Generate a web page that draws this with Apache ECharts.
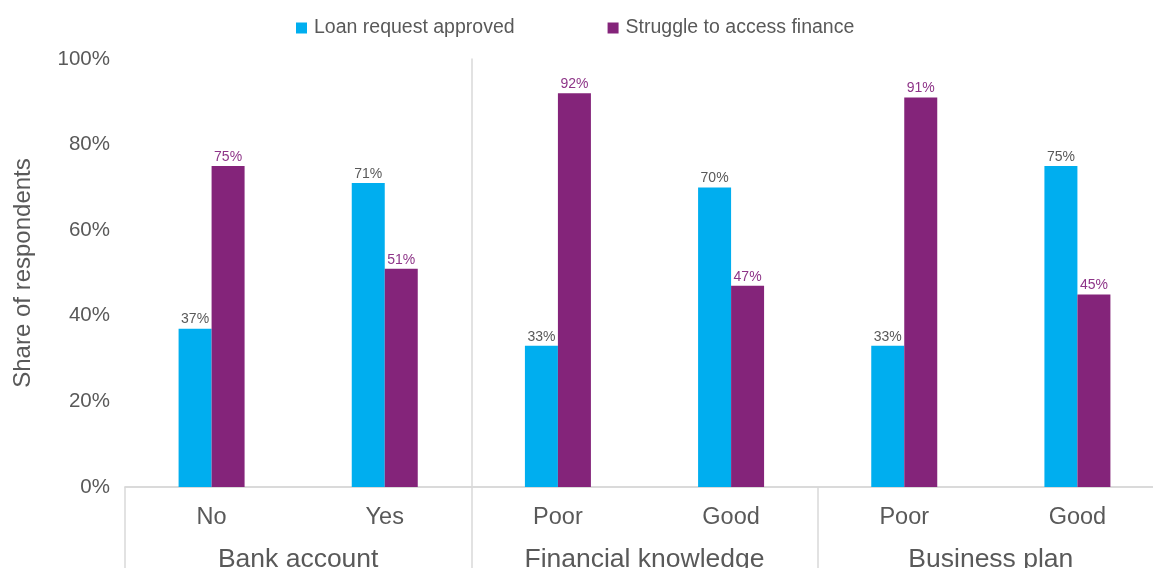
<!DOCTYPE html>
<html>
<head>
<meta charset="utf-8">
<style>
  html, body { margin: 0; padding: 0; background: #fff; }
  #chart { width: 1153px; height: 568px; }
</style>
<script src="https://cdn.jsdelivr.net/npm/echarts@6/dist/echarts.min.js"></script>
</head>
<body>
<div id="chart"></div>
<script>
// Answer options within each respondent group
const categories = ['No', 'Yes', 'Poor', 'Good', 'Poor', 'Good'];
// Respondent groups, each spanning two answer options
const groups = ['Bank account', 'Financial knowledge', 'Business plan'];
const seriesNames = ['Loan request approved', 'Struggle to access finance'];
// Share of respondents, in percent
const loanApproved = [37, 71, 33, 70, 33, 75];
const struggleFinance = [75, 51, 92, 47, 91, 45];
const yTicks = [0, 20, 40, 60, 80, 100];

const BLUE = '#00AEEF';
const PURPLE = '#84247A';
const TEXT = '#595959';
const RULE = '#D9D9D9';
const FONT = '"Liberation Sans", Arial, Helvetica, sans-serif';

const GRID_LEFT = 125;
const GRID_WIDTH = 1039;
const CAT_WIDTH = GRID_WIDTH / categories.length;

const chart = echarts.init(document.getElementById('chart'), null, { renderer: 'canvas' });

chart.setOption({
  animation: false,
  textStyle: { fontFamily: FONT },
  legend: {
    left: 291,
    top: 13,
    itemWidth: 11,
    itemHeight: 11,
    itemGap: 93,
    icon: 'rect',
    textStyle: { fontFamily: FONT, fontSize: 19.5, color: TEXT, padding: [0, 0, 0, 2] },
    data: seriesNames
  },
  grid: {
    left: GRID_LEFT, top: 59, width: GRID_WIDTH, height: 428,
    containLabel: false, outerBoundsMode: 'none'
  },
  xAxis: [
    {
      type: 'category',
      data: categories,
      position: 'bottom',
      axisLine: { show: true, lineStyle: { color: RULE, width: 1.5 } },
      axisTick: { show: false },
      splitLine: { show: false },
      axisLabel: { fontFamily: FONT, fontSize: 23.5, color: TEXT, margin: 19, interval: 0 }
    },
    {
      type: 'category',
      data: groups,
      position: 'bottom',
      axisLine: { show: true, lineStyle: { color: RULE, width: 1.5 } },
      axisTick: { show: true, length: 90, interval: 0, lineStyle: { color: RULE, width: 1.5 } },
      splitLine: { show: false },
      axisLabel: { fontFamily: FONT, fontSize: 26.5, color: TEXT, margin: 59, interval: 0 }
    }
  ],
  yAxis: [
    {
      type: 'value',
      min: yTicks[0],
      max: yTicks[yTicks.length - 1],
      interval: yTicks[1] - yTicks[0],
      name: 'Share of respondents',
      nameLocation: 'middle',
      nameGap: 90,
      nameTextStyle: { fontFamily: FONT, fontSize: 24, color: TEXT },
      axisLine: { show: false },
      axisTick: { show: false },
      splitLine: { show: false },
      axisLabel: { fontFamily: FONT, fontSize: 20.5, color: TEXT, margin: 15, formatter: '{value}%' }
    },
    {
      // divider between the first and second respondent groups
      type: 'value',
      position: 'left',
      offset: -2 * CAT_WIDTH,
      min: yTicks[0],
      max: yTicks[yTicks.length - 1],
      axisLine: { show: true, lineStyle: { color: RULE, width: 1.5 } },
      axisTick: { show: false },
      axisLabel: { show: false },
      splitLine: { show: false }
    }
  ],
  series: [
    {
      name: seriesNames[0],
      type: 'bar',
      xAxisIndex: 0,
      yAxisIndex: 0,
      data: loanApproved,
      barWidth: 33,
      barGap: '0%',
      itemStyle: { color: BLUE },
      label: { show: true, position: 'top', distance: 2, fontFamily: FONT, fontSize: 14, color: TEXT, formatter: '{c}%' }
    },
    {
      name: seriesNames[1],
      type: 'bar',
      xAxisIndex: 0,
      yAxisIndex: 0,
      data: struggleFinance,
      barWidth: 33,
      barGap: '0%',
      itemStyle: { color: PURPLE },
      label: { show: true, position: 'top', distance: 2, fontFamily: FONT, fontSize: 14, color: '#8E3588', formatter: '{c}%' }
    }
  ]
});
</script>
</body>
</html>
